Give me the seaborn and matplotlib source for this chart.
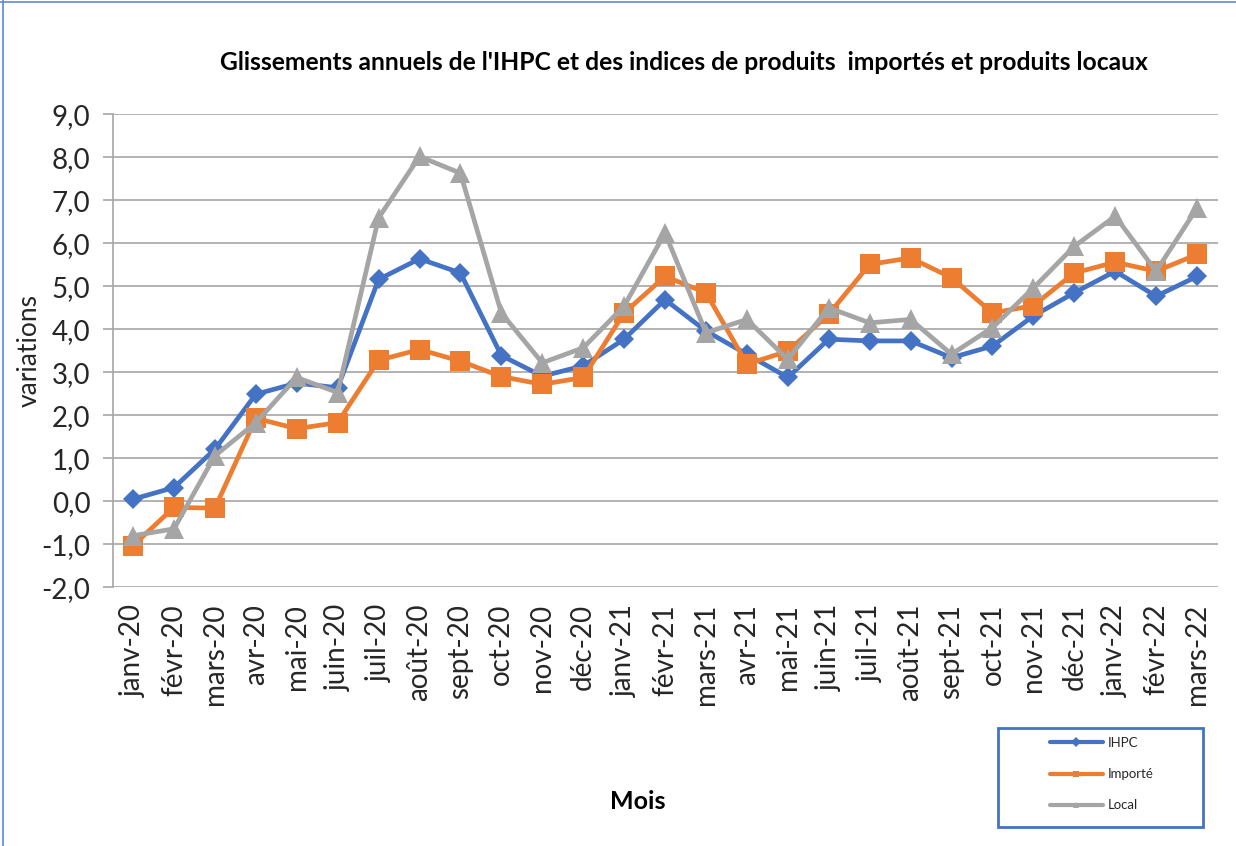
import numpy as np
import pandas as pd
import matplotlib
matplotlib.use("Agg")
import matplotlib.pyplot as plt
import seaborn as sns
from matplotlib.lines import Line2D
from matplotlib.patches import Rectangle

mois = ['janv-20', 'févr-20', 'mars-20', 'avr-20', 'mai-20', 'juin-20', 'juil-20', 'août-20',
        'sept-20', 'oct-20', 'nov-20', 'déc-20', 'janv-21', 'févr-21', 'mars-21', 'avr-21',
        'mai-21', 'juin-21', 'juil-21', 'août-21', 'sept-21', 'oct-21', 'nov-21', 'déc-21',
        'janv-22', 'févr-22', 'mars-22']

ihpc = [0.05, 0.32, 1.21, 2.49, 2.75, 2.64, 5.16, 5.64, 5.31, 3.39, 2.91, 3.15, 3.77, 4.69,
        3.96, 3.42, 2.88, 3.77, 3.73, 3.73, 3.34, 3.61, 4.31, 4.85, 5.35, 4.77, 5.23]
importe = [-1.03, -0.14, -0.16, 1.93, 1.69, 1.83, 3.28, 3.53, 3.26, 2.90, 2.72, 2.88, 4.38, 5.23,
           4.85, 3.19, 3.49, 4.35, 5.51, 5.66, 5.20, 4.38, 4.55, 5.31, 5.56, 5.35, 5.74]
local = [-0.80, -0.64, 1.06, 1.83, 2.88, 2.53, 6.59, 8.02, 7.63, 4.38, 3.22, 3.57, 4.54, 6.24,
         3.92, 4.23, 3.30, 4.50, 4.15, 4.23, 3.42, 4.04, 4.96, 5.93, 6.63, 5.35, 6.82]

series_names = ['IHPC', 'Importé', 'Local']
y_ticks = [-2, -1, 0, 1, 2, 3, 4, 5, 6, 7, 8, 9]

title = "Glissements annuels de l'IHPC et des indices de produits  importés et produits locaux"

colors = {'IHPC': '#4472C4', 'Importé': '#ED7D31', 'Local': '#A5A5A5'}
markers = {'IHPC': 'D', 'Importé': 's', 'Local': '^'}
msizes = {'IHPC': 10.5, 'Importé': 14, 'Local': 14.5}

sns.set_style("white")
plt.rcParams['font.family'] = ['Lato', 'DejaVu Sans']

idx = np.arange(len(mois))
df = pd.concat([
    pd.DataFrame({'pos': idx, 'mois': mois, 'valeur': vals, 'serie': name})
    for name, vals in zip(series_names, [ihpc, importe, local])
], ignore_index=True)

fig = plt.figure(figsize=(12.36, 8.46), dpi=100)
ax = fig.add_axes([112.6 / 1236, 1 - 587.3 / 846, (1217.5 - 112.6) / 1236, (587.3 - 114.3) / 846])

for name in series_names:
    sub = df[df['serie'] == name]
    sns.lineplot(data=sub, x='pos', y='valeur', ax=ax, color=colors[name],
                 marker=markers[name], markersize=msizes[name], markeredgewidth=0,
                 linewidth=3.4, sort=False, estimator=None, legend=False, zorder=3)

ax.set_xlim(-0.5, len(mois) - 0.5)
ax.set_ylim(-2, 9)
ax.set_yticks(y_ticks)
ax.set_yticklabels([f"{v:.1f}".replace('.', ',') for v in y_ticks])
ax.set_xticks(idx)
ax.set_xticklabels(mois, rotation=90)

ax.grid(axis='y', color='#A6A6A6', linewidth=1.2, zorder=0)
ax.grid(axis='x', visible=False)
for s in ['top', 'right', 'bottom']:
    ax.spines[s].set_visible(False)
ax.spines['left'].set_color('#A6A6A6')
ax.spines['left'].set_linewidth(1.2)

ax.tick_params(axis='y', length=7, width=1.2, color='#A6A6A6', pad=9,
               labelsize=20, labelcolor='#262626', left=True)
ax.tick_params(axis='x', length=0, pad=12, labelsize=20, labelcolor='#262626')

ax.set_ylabel('variations', fontsize=19, color='#262626')
ax.yaxis.set_label_coords(-0.064, 0.5)
ax.set_xlabel('Mois', fontsize=18, fontweight='bold', color='#000000')
ax.xaxis.set_label_coords(0.4755, -0.428)

fig.text(684 / 1236, 1 - 62 / 846, title, ha='center', va='center',
         fontsize=17.7, fontweight='bold', color='#000000')

# legend
handles = [Line2D([0], [0], color=colors[n], marker=markers[n], markersize=5,
                  markeredgewidth=0, linewidth=3) for n in series_names]
leg = fig.legend(handles, series_names, loc='upper left',
                 bbox_to_anchor=(1050 / 1236, 1 - 737 / 846), bbox_transform=fig.transFigure,
                 frameon=False, fontsize=9.5, borderpad=0, borderaxespad=0,
                 handlelength=4.0, handletextpad=0.4, labelspacing=1.45)
for t in leg.get_texts():
    t.set_color('#262626')
fig.add_artist(Rectangle((998 / 1236, 1 - 827 / 846), 205 / 1236, 99 / 846,
                         transform=fig.transFigure, fill=False,
                         edgecolor='#4472C4', linewidth=2))

# outer frame (top & left)
fig.add_artist(Line2D([0, 1], [1 - 2 / 846, 1 - 2 / 846], transform=fig.transFigure,
                      color='#5B8BD6', linewidth=1.2))
fig.add_artist(Line2D([3 / 1236, 3 / 1236], [0, 1], transform=fig.transFigure,
                      color='#5B8BD6', linewidth=1.2))

fig.savefig('out.png', dpi=100)
